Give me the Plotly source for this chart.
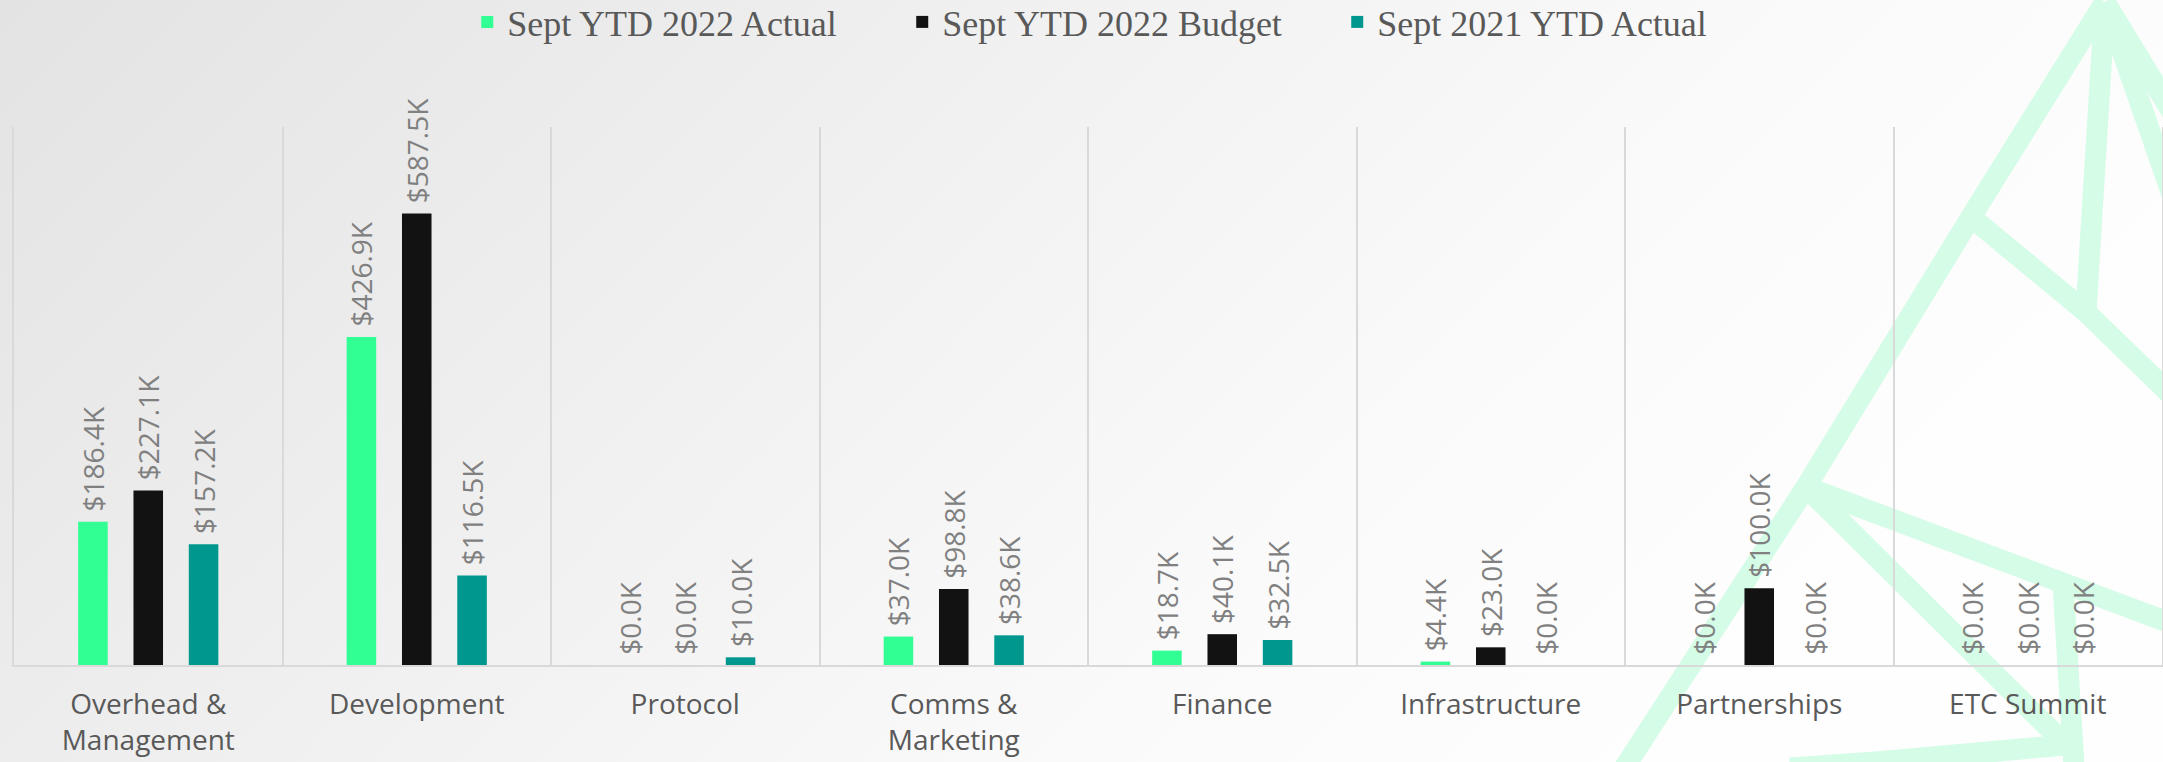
import base64
import plotly.graph_objects as go

# ---------------- data ----------------
categories = ["Overhead &<br>Management", "Development", "Protocol", "Comms &<br>Marketing",
              "Finance", "Infrastructure", "Partnerships", "ETC Summit"]
series_names = ["Sept YTD 2022 Actual", "Sept YTD 2022 Budget", "Sept 2021 YTD Actual"]
actual_2022 = [186.4, 426.9, 0.0, 37.0, 18.7, 4.4, 0.0, 0.0]      # $K
budget_2022 = [227.1, 587.5, 0.0, 98.8, 40.1, 23.0, 100.0, 0.0]   # $K
actual_2021 = [157.2, 116.5, 10.0, 38.6, 32.5, 0.0, 0.0, 0.0]     # $K
colors = ["#31FF93", "#121212", "#00978F"]

W, H = 2163, 762
ML, MR, MT, MB = 14, 1, 127, 97
PW, PH = W - ML - MR, H - MT - MB

# ---------------- background (gradient + faint logo line art) ----------------
logo_lines = [
    [(1610, 790), (1806, 487), (1971, 217), (2105, 2)],
    [(2105, 2), (2200, 158)],
    [(2105, 2), (2178, 212)],
    [(2105, 2), (2086, 312)],
    [(1971, 217), (2086, 312), (2200, 423)],
    [(1806, 487), (2063, 583), (2200, 634)],
    [(1806, 487), (2066, 745)],
    [(2063, 583), (2076, 800)],
    [(2066, 745), (1876, 762), (1790, 768)],
]
polys = "".join(
    '<polyline points="%s"/>' % " ".join(f"{x},{y}" for x, y in pts) for pts in logo_lines
)
svg = f'''<svg xmlns="http://www.w3.org/2000/svg" width="{W}" height="{H}" viewBox="0 0 {W} {H}" preserveAspectRatio="none">
<defs><linearGradient id="g" x1="0" y1="0" x2="1" y2="0.35">
<stop offset="0" stop-color="#e3e3e3"/><stop offset="0.45" stop-color="#f1f1f1"/><stop offset="0.75" stop-color="#fafafa"/><stop offset="1" stop-color="#fefefe"/>
</linearGradient></defs>
<rect x="0" y="0" width="{W}" height="{H}" fill="url(#g)"/>
<g stroke="#d4fce6" stroke-width="21" fill="none" stroke-linejoin="miter" stroke-linecap="butt">{polys}</g>
</svg>'''
bg_src = "data:image/svg+xml;base64," + base64.b64encode(svg.encode()).decode()

# ---------------- figure ----------------
x = list(range(len(categories)))
fig = go.Figure()
for name, vals, col in zip(series_names, [actual_2022, budget_2022, actual_2021], colors):
    fig.add_trace(go.Bar(
        name=name, x=x, y=vals, marker=dict(color=col, line=dict(width=0)),
        text=["\u00a0$" + f"{v:.1f}K" for v in vals],
        textposition="outside", textangle=-90, constraintext="none", cliponaxis=False,
        textfont=dict(family="Open Sans", size=28, color="#808080"),
        hoverinfo="skip",
    ))

fig.update_layout(
    width=W, height=H,
    margin=dict(l=ML, r=MR, t=MT, b=MB, pad=0, autoexpand=False),
    paper_bgcolor="white", plot_bgcolor="rgba(0,0,0,0)",
    barmode="group", bargap=0.382, bargroupgap=0.466,
    showlegend=True,
    legend=dict(orientation="h", x=0.211, xanchor="left", y=1 + (MT - 22) / PH, yanchor="middle",
                font=dict(family="Liberation Serif", size=36, color="#595959"),
                bgcolor="rgba(0,0,0,0)", entrywidth=390, traceorder="normal"),
    xaxis=dict(range=[-0.5, len(categories) - 0.5], tickmode="array", tickvals=x, ticktext=categories,
               showgrid=False, zeroline=False, showline=True, linecolor="#d9d9d9", linewidth=2,
               ticks="", automargin=False, ticklabelstandoff=13,
               tickfont=dict(family="Open Sans", size=28, color="#595959", lineposition="none"),
               minor=dict(tickmode="array", tickvals=[i + 0.5 for i in x[:-1]], showgrid=True,
                          gridcolor="#d9d9d9", gridwidth=2, ticks="")),
    yaxis=dict(range=[0, 700], showgrid=False, zeroline=False, showticklabels=False, automargin=False,
               showline=True, mirror=True, linecolor="#d9d9d9", linewidth=2, ticks=""),
    images=[dict(source=bg_src, xref="paper", yref="paper", x=-ML / PW, y=1 + MT / PH,
                 sizex=W / PW, sizey=H / PH, xanchor="left", yanchor="top",
                 sizing="stretch", layer="below")],
)

fig.write_html("out.html", config={"displayModeBar": False},
               post_script="document.body.style.margin='0';document.body.style.overflow='hidden';")
